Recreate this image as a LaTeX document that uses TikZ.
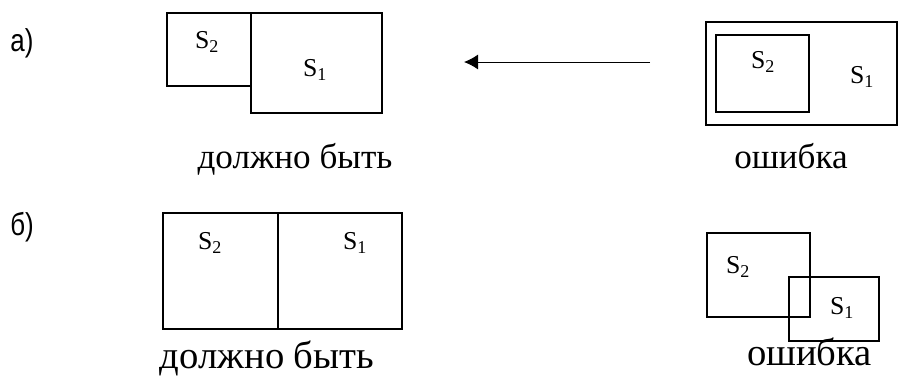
\documentclass[tikz,border=0pt]{standalone}
\usepackage{fontspec}
\setmainfont{Liberation Serif}
\newfontfamily\tagfont{Liberation Sans}
\usetikzlibrary{arrows.meta}

\newcommand{\Ssub}[1]{S\textsubscript{#1}}

\begin{document}
\begin{tikzpicture}[
    x=0.03cm, y=-0.03cm,
    rect/.style 2 args={draw, line width=0.9pt, inner sep=0pt, outer sep=0pt,
                minimum width=#1*0.03cm, minimum height=#2*0.03cm},
    sym/.style={inner sep=0pt, font=\fontsize{22}{24}\selectfont},
    cap/.style={anchor=base, inner sep=0pt, font=\fontsize{#1}{36}\selectfont},
    tag/.style={inner sep=0pt, font=\tagfont\fontsize{27}{30}\selectfont},
    arr/.style={-{Latex[length=4.2mm, width=4.5mm]}, line width=0.8pt},
]
    \useasboundingbox (0,0) rectangle (900,378);

    % row a
    \node[tag] (taga) at (22,43) {\scalebox{0.82}[1]{а)}};
    \node[rect={84}{73}]   (s2a)  at (209,49.5) {};
    \node[rect={131}{100}] (s1a)  at (316.5,63) {};
    \node[sym] (s2alab) at (207,42) {\Ssub2};
    \node[sym] (s1alab) at (315,70) {\Ssub1};
    \node[cap=30] (gooda) at (295,168) {должно быть};

    \node[rect={191}{103}] (outa) at (801.5,73.5) {};
    \node[rect={93}{77}]   (ina)  at (762.5,73.5) {};
    \node[sym] (s2blab) at (763,62) {\Ssub2};
    \node[sym] (s1blab) at (862,77) {\Ssub1};
    \node[cap=30] (erra) at (791,168) {ошибка};

    \coordinate (arrfrom) at (650,62);
    \coordinate (arrto)   at (464,62);
    \draw[arr] (arrfrom) -- (arrto);

    % row b
    \node[tag] (tagb) at (22,227) {\scalebox{0.82}[1]{б)}};
    \node[rect={115}{116}] (s2b) at (220.5,271) {};
    \node[rect={124}{116}] (s1b) at (340,271) {};
    \node[sym] (s2clab) at (210,243) {\Ssub2};
    \node[sym] (s1clab) at (355,243) {\Ssub1};
    \node[cap=33] (goodb) at (267,368) {должно быть};

    \node[rect={103}{84}] (s2d) at (758.5,275) {};
    \node[rect={90}{64}]  (s1d) at (834,309) {};
    \node[sym] (s2dlab) at (738,267) {\Ssub2};
    \node[sym] (s1dlab) at (842,308) {\Ssub1};
    \node[cap=33] (errb) at (809.5,365) {ошибка};
\end{tikzpicture}
\end{document}
